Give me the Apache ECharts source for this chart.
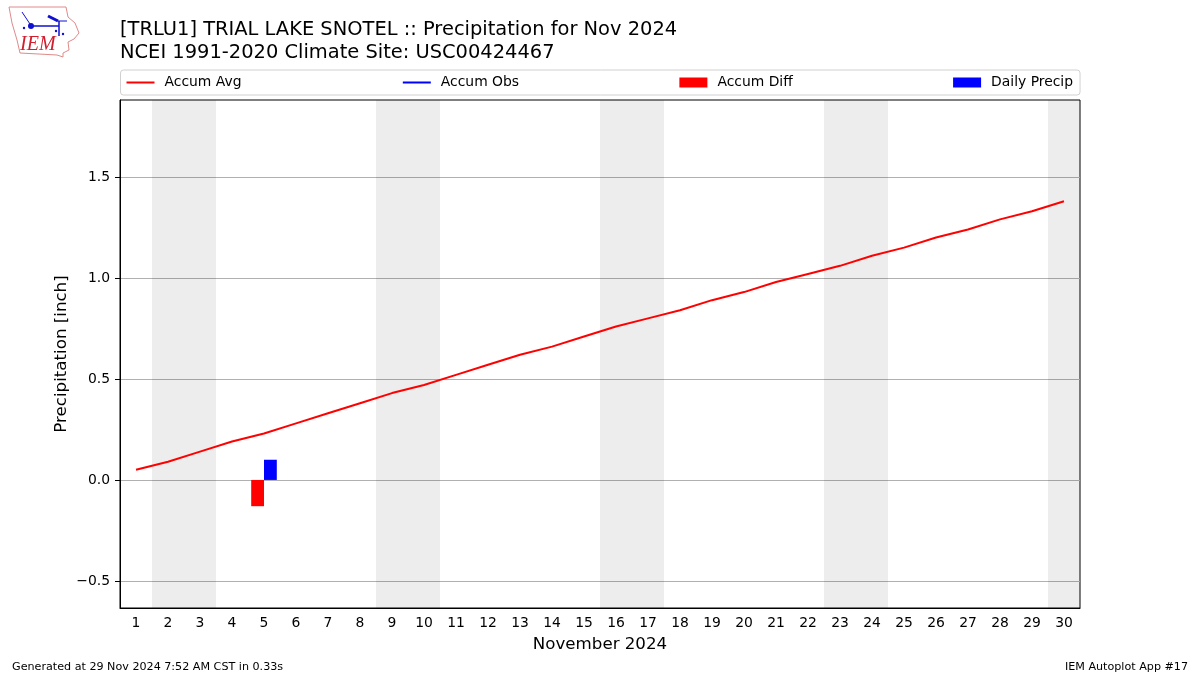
<!DOCTYPE html>
<html><head><meta charset="utf-8">
<style>html,body{margin:0;padding:0;background:#fff}#c{width:1200px;height:675px}</style>
<script src="https://cdn.jsdelivr.net/npm/echarts@6/dist/echarts.min.js"></script>
</head><body><div id="c"></div>
<script>
const days = ['1','2','3','4','5','6','7','8','9','10','11','12','13','14','15','16','17','18','19','20','21','22','23','24','25','26','27','28','29','30'];
const accumAvg = [0.05,0.09,0.14,0.19,0.23,0.28,0.33,0.38,0.43,0.47,0.52,0.57,0.62,0.66,0.71,0.76,0.80,0.84,0.89,0.93,0.98,1.02,1.06,1.11,1.15,1.20,1.24,1.29,1.33,1.38];
const accumObs = [null,null,null,null,null,null,null,null,null,null,null,null,null,null,null,null,null,null,null,null,null,null,null,null,null,null,null,null,null,null];
const accumDiff = [null,null,null,null,-0.13,null,null,null,null,null,null,null,null,null,null,null,null,null,null,null,null,null,null,null,null,null,null,null,null,null];
const dailyPrecip = [null,null,null,null,0.10,null,null,null,null,null,null,null,null,null,null,null,null,null,null,null,null,null,null,null,null,null,null,null,null,null];
const weekends = [[1.5,3.5],[8.5,10.5],[15.5,17.5],[22.5,24.5],[29.5,30.5]];
const yTicks = [-0.5,0,0.5,1,1.5];
const FONT = '"DejaVu Sans"';
const chart = echarts.init(document.getElementById('c'), null, {renderer:'canvas'});
chart.setOption({
  animation:false,
  backgroundColor:'#fff',
  textStyle:{fontFamily:FONT,color:'#000'},
  title:{left:120,top:19,padding:0,
    text:'[TRLU1] TRIAL LAKE SNOTEL :: Precipitation for Nov 2024\nNCEI 1991-2020 Climate Site: USC00424467',
    textStyle:{fontFamily:FONT,fontSize:19.44,fontWeight:'normal',lineHeight:22.5,color:'#000'}},
  legend:{left:120.5,top:70,padding:[5.5,7,5.5,5],itemGap:160.3,itemWidth:28,itemHeight:10,
    borderColor:'#d0d0d0',borderWidth:1,borderRadius:3,
    lineStyle:{width:2},
    textStyle:{fontFamily:FONT,fontSize:13.9,color:'#000',padding:[0,0,0,5]},
    data:[{name:'Accum Avg',itemStyle:{opacity:0}},{name:'Accum Obs',itemStyle:{opacity:0}},
          {name:'Accum Diff',icon:'rect'},{name:'Daily Precip',icon:'rect'}]},
  grid:{left:120,top:100,width:960,height:508,show:true,borderColor:'#000',borderWidth:1,backgroundColor:'transparent'},
  xAxis:[{type:'category',data:days,boundaryGap:true,name:'November 2024',nameLocation:'middle',nameGap:28,nameMoveOverlap:false,
      nameTextStyle:{fontFamily:FONT,fontSize:16.67,color:'#000'},
      axisLine:{lineStyle:{color:'#000'},onZero:false},
      axisTick:{alignWithLabel:true,length:5,lineStyle:{color:'#000'}},
      axisLabel:{interval:0,fontFamily:FONT,fontSize:13.9,color:'#000',margin:8},splitLine:{show:false}},
    {type:'value',min:0.5,max:30.5,show:false,splitLine:{show:false}}],
  yAxis:{type:'value',min:-0.634,max:1.881,name:'Precipitation [inch]',nameLocation:'middle',nameGap:50,nameMoveOverlap:false,
      nameTextStyle:{fontFamily:FONT,fontSize:16.67,color:'#000'},
      axisLine:{show:true,lineStyle:{color:'#000'}},
      axisTick:{show:true,length:5,customValues:yTicks,lineStyle:{color:'#000'}},
      axisLabel:{customValues:yTicks,fontFamily:FONT,fontSize:13.9,color:'#000',margin:10,
        formatter:v=>(v<0?'\u2212':'')+Math.abs(v).toFixed(1)},
      splitLine:{show:true,lineStyle:{color:'#b0b0b0',width:1}}},
  series:[
    {name:'weekend',type:'line',xAxisIndex:1,data:[],silent:true,z:1,
      markArea:{silent:true,itemStyle:{color:'rgba(0,0,0,0.07)'},
        data:weekends.map(w=>[{xAxis:w[0]},{xAxis:w[1]}])}},
    {name:'Accum Avg',type:'line',data:accumAvg,showSymbol:false,symbol:'none',z:5,
      lineStyle:{color:'#f00',width:2},itemStyle:{color:'#f00'}},
    {name:'Accum Obs',type:'line',data:accumObs,showSymbol:false,symbol:'none',z:5,
      lineStyle:{color:'#00f',width:2},itemStyle:{color:'#00f'}},
    {name:'Accum Diff',type:'bar',data:accumDiff,barWidth:12.8,barGap:0,z:3,itemStyle:{color:'#f00'}},
    {name:'Daily Precip',type:'bar',data:dailyPrecip,barWidth:12.8,barGap:0,z:3,itemStyle:{color:'#00f'}}
  ],
  graphic:[
    {type:'text',left:12,top:662,style:{text:'Generated at 29 Nov 2024 7:52 AM CST in 0.33s',font:'11.15px "DejaVu Sans"',fill:'#000'}},
    {type:'text',right:12,top:662,style:{text:'IEM Autoplot App #17',font:'11.15px "DejaVu Sans"',fill:'#000'}},
    {type:'polygon',silent:true,shape:{points:[[9,7],[66,7],[68,17],[75,23],[79,33],[74,39],[68,42],[69,50],[63,53],[63,57],[57,55],[20,53],[17,40],[12,23]]},
      style:{fill:'#fff',stroke:'#e08a8a',lineWidth:1}},
    {type:'line',silent:true,shape:{x1:31,y1:26,x2:59,y2:26},style:{stroke:'#1010d0',lineWidth:1.5}},
    {type:'line',silent:true,shape:{x1:59,y1:21,x2:59,y2:36},style:{stroke:'#1010d0',lineWidth:1.5}},
    {type:'line',silent:true,shape:{x1:22,y1:12,x2:30,y2:24},style:{stroke:'#1010d0',lineWidth:1}},
    {type:'line',silent:true,shape:{x1:48,y1:16,x2:58,y2:21},style:{stroke:'#1010d0',lineWidth:3}},
    {type:'line',silent:true,shape:{x1:58,y1:21,x2:67,y2:21},style:{stroke:'#1010d0',lineWidth:1}},
    {type:'circle',silent:true,shape:{cx:31,cy:26,r:3},style:{fill:'#1010d0'}},
    {type:'circle',silent:true,shape:{cx:24,cy:28,r:1.2},style:{fill:'#1010d0'}},
    {type:'circle',silent:true,shape:{cx:56,cy:31,r:1.2},style:{fill:'#1010d0'}},
    {type:'circle',silent:true,shape:{cx:63,cy:34,r:1.2},style:{fill:'#1010d0'}},
    {type:'text',silent:true,left:20,top:35,style:{text:'IEM',font:'italic 20px "Liberation Serif"',fill:'#d02030'}}
  ]
});
</script></body></html>
